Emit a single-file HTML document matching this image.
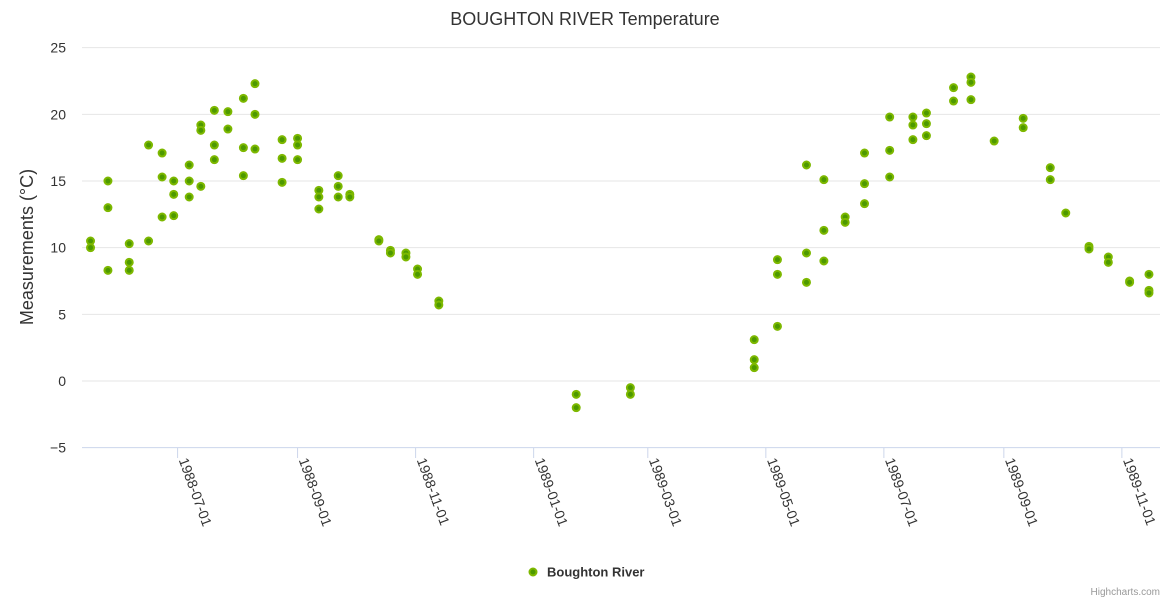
<!DOCTYPE html>
<html><head><meta charset="utf-8"><style>
body{margin:0;background:#fff;font-family:"Liberation Sans",sans-serif}
svg{display:block}
</style></head><body>
<svg id="chart" width="1170" height="600" xmlns="http://www.w3.org/2000/svg">
<text x="585" y="25" text-anchor="middle" font-size="18" fill="#333333">BOUGHTON RIVER Temperature</text>
<text transform="translate(33,247) rotate(-90)" text-anchor="middle" font-size="18" fill="#333">Measurements (°C)</text>
<g id="grid"></g>
<g id="xaxis"></g>
<g id="points"></g>
<g>
<circle cx="533" cy="572" r="3.5" fill="#4d9900" stroke="#7db800" stroke-width="2"/>
<text x="547" y="576.5" font-size="13" font-weight="bold" fill="#333">Boughton River</text>
</g>
<text x="1160" y="595" text-anchor="end" font-size="10" fill="#999">Highcharts.com</text>
</svg>
<script>
const yTicks=[-5,0,5,10,15,20,25];
const xTickLabels=['1988-07-01','1988-09-01','1988-11-01','1989-01-01','1989-03-01','1989-05-01','1989-07-01','1989-09-01','1989-11-01'];
const dates=['1988-05-17','1988-05-17','1988-05-26','1988-05-26','1988-05-26','1988-06-06','1988-06-06','1988-06-06','1988-06-16','1988-06-16','1988-06-23','1988-06-23','1988-06-23','1988-06-29','1988-06-29','1988-06-29','1988-07-07','1988-07-07','1988-07-07','1988-07-13','1988-07-13','1988-07-13','1988-07-20','1988-07-20','1988-07-20','1988-07-27','1988-07-27','1988-08-04','1988-08-04','1988-08-04','1988-08-10','1988-08-10','1988-08-10','1988-08-24','1988-08-24','1988-08-24','1988-09-01','1988-09-01','1988-09-01','1988-09-12','1988-09-12','1988-09-12','1988-09-22','1988-09-22','1988-09-22','1988-09-28','1988-09-28','1988-10-13','1988-10-13','1988-10-19','1988-10-19','1988-10-27','1988-10-27','1988-11-02','1988-11-02','1988-11-13','1988-11-13','1989-01-23','1989-01-23','1989-02-20','1989-02-20','1989-04-25','1989-04-25','1989-04-25','1989-05-07','1989-05-07','1989-05-07','1989-05-22','1989-05-22','1989-05-22','1989-05-31','1989-05-31','1989-05-31','1989-06-11','1989-06-11','1989-06-21','1989-06-21','1989-06-21','1989-07-04','1989-07-04','1989-07-04','1989-07-16','1989-07-16','1989-07-16','1989-07-23','1989-07-23','1989-07-23','1989-08-06','1989-08-06','1989-08-15','1989-08-15','1989-08-15','1989-08-27','1989-09-11','1989-09-11','1989-09-25','1989-09-25','1989-10-03','1989-10-15','1989-10-15','1989-10-25','1989-10-25','1989-11-05','1989-11-05','1989-11-15','1989-11-15','1989-11-15'];
const temps=[10.5,10.0,15.0,13.0,8.3,10.3,8.9,8.3,17.7,10.5,17.1,15.3,12.3,15.0,14.0,12.4,16.2,15.0,13.8,19.2,18.8,14.6,20.3,17.7,16.6,20.2,18.9,21.2,17.5,15.4,22.3,20.0,17.4,18.1,16.7,14.9,18.2,17.7,16.6,14.3,13.8,12.9,15.4,14.6,13.8,14.0,13.8,10.6,10.5,9.8,9.6,9.6,9.3,8.4,8.0,6.0,5.7,-1.0,-2.0,-0.5,-1.0,3.1,1.6,1.0,9.1,8.0,4.1,16.2,9.6,7.4,15.1,11.3,9.0,12.3,11.9,17.1,14.8,13.3,19.8,17.3,15.3,19.8,19.2,18.1,20.1,19.3,18.4,22.0,21.0,22.8,22.4,21.1,18.0,19.7,19.0,16.0,15.1,12.6,10.1,9.9,9.3,8.9,7.5,7.4,8.0,6.8,6.6];
const NS='http://www.w3.org/2000/svg';
const origin=Date.UTC(1988,6,1);
function xs(d){const p=d.split('-');const t=Date.UTC(+p[0],+p[1]-1,+p[2]);return 177.6+(t-origin)/86400000*1.935;}
function ys(v){return 381-v*13.333;}
function mk(tag,attrs,parent){const e=document.createElementNS(NS,tag);for(const k in attrs)e.setAttribute(k,attrs[k]);parent.appendChild(e);return e;}
const grid=document.getElementById('grid');
yTicks.forEach(v=>{
  const l=mk('line',{x1:82,x2:1160,y1:ys(v),y2:ys(v),stroke:v===-5?'#ccd6eb':'#e6e6e6','stroke-width':1},grid);
  
  
  const t=mk('text',{x:66,y:ys(v)+5,'text-anchor':'end','font-size':14,fill:'#333'},grid);
  t.textContent=v<0?'−'+Math.abs(v):String(v);
  
  
});
const xa=document.getElementById('xaxis');
xTickLabels.forEach(s=>{
  const x=xs(s);
  const tk=mk('line',{x1:x,x2:x,y1:448,y2:458,stroke:'#ccd6eb'},xa);
  
  
  const t=mk('text',{transform:'translate('+(x+1)+',460) rotate(70)','font-size':14,fill:'#333'},xa);
  t.textContent=s;
  
  
});
const pg=document.getElementById('points');
dates.forEach((d,i)=>{
  const c=mk('circle',{cx:xs(d),cy:ys(temps[i]),r:3.5,fill:'#4d9900',stroke:'#7db800','stroke-width':2},pg);
  
  
});
</script>
</body></html>
